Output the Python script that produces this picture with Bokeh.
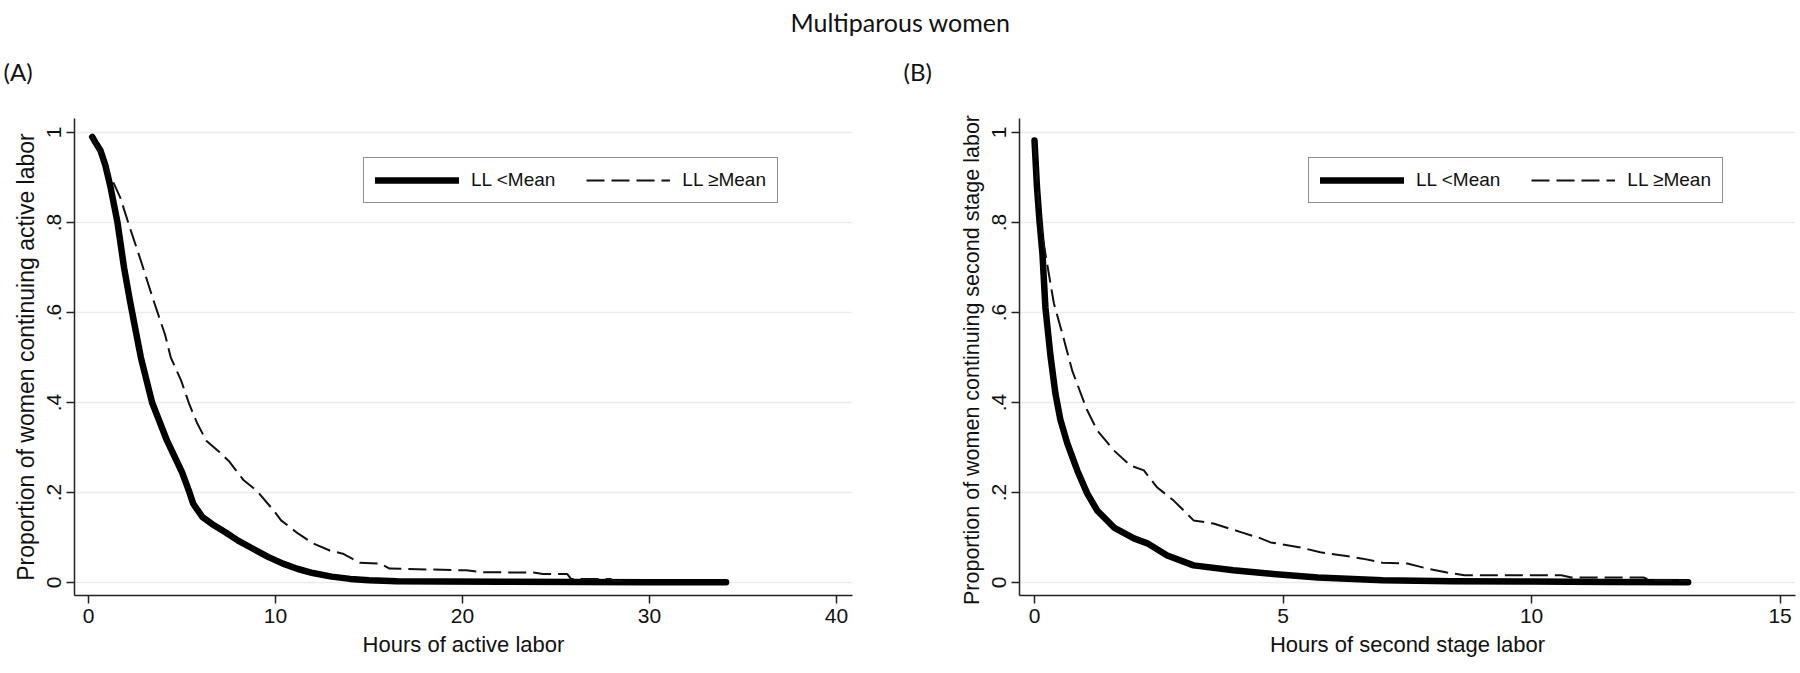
from bokeh.plotting import figure
from bokeh.models import Range1d, FixedTicker, Label, Legend, LegendItem
from bokeh.layouts import column, row
from bokeh.embed import file_html
from bokeh.resources import INLINE

# ---------------- data ----------------
TITLE = "Multiparous women"
series_names = ["LL <Mean", "LL \u2265Mean"]

# Panel A: hours of active labor
a_lo_h = [0.2, 0.37, 0.64, 0.9, 1.18, 1.55, 1.9, 2.2, 2.45, 2.8, 3.4, 4.2, 5.0, 5.4, 5.6, 6.1, 6.6, 7.3, 8.0,
          8.8, 9.6, 10.4, 11.2, 12.0, 13.0, 14.0, 15.0, 16.5, 19.0, 22.0, 26.0, 30.0, 34.1]
a_lo_s = [0.99, 0.978, 0.96, 0.927, 0.878, 0.80, 0.70, 0.63, 0.575, 0.50, 0.40, 0.315, 0.245, 0.20, 0.175, 0.145,
          0.13, 0.112, 0.093, 0.075, 0.057, 0.042, 0.03, 0.021, 0.013, 0.008, 0.005, 0.003, 0.002, 0.0015, 0.001,
          0.0008, 0.0005]
a_hi_h = [0.2, 0.64, 1.1, 1.7, 2.2, 2.8, 3.45, 4.1, 4.4, 4.95, 5.4, 5.8, 6.3, 7.0, 7.5, 8.3, 9.0, 9.9,
          10.3, 11.2, 12.0, 12.9, 13.6, 14.1, 14.5, 15.6, 16.1, 18.1, 20.2, 21.0, 23.8, 24.3, 25.6, 25.8, 27.9,
          28.1, 28.6]
a_hi_s = [0.99, 0.953, 0.91, 0.855, 0.79, 0.715, 0.63, 0.55, 0.50, 0.449, 0.395, 0.355, 0.315, 0.29, 0.27,
          0.227, 0.204, 0.16, 0.138, 0.109, 0.087, 0.071, 0.064, 0.053, 0.044, 0.042, 0.031, 0.029, 0.027,
          0.023, 0.022, 0.019, 0.019, 0.008, 0.008, 0.004, 0.003]

# Panel B: hours of second stage labor
b_lo_h = [0.0, 0.05, 0.1, 0.16, 0.22, 0.32, 0.42, 0.52, 0.66, 0.86, 1.06, 1.26, 1.6, 2.0, 2.27, 2.67, 3.2, 4.0,
          4.7, 5.7, 7.0, 8.4, 10.0, 11.5, 13.15]
b_lo_s = [0.982, 0.878, 0.804, 0.73, 0.61, 0.505, 0.42, 0.362, 0.309, 0.249, 0.198, 0.16, 0.122, 0.098, 0.087,
          0.06, 0.038, 0.027, 0.02, 0.011, 0.005, 0.003, 0.002, 0.001, 0.0005]
b_hi_h = [0.0, 0.05, 0.1, 0.14, 0.16, 0.22, 0.39, 0.58, 0.76, 1.05, 1.26, 1.6, 1.93, 2.2, 2.47, 2.8, 3.2, 3.6,
          4.15, 4.55, 4.75, 5.35, 5.75, 6.2, 6.6, 7.0, 7.5, 7.9, 8.3, 8.65, 10.6, 10.8, 12.25, 12.4, 13.15]
b_hi_s = [0.982, 0.90, 0.82, 0.79, 0.77, 0.73, 0.62, 0.545, 0.47, 0.385, 0.338, 0.293, 0.26, 0.249, 0.211,
          0.182, 0.138, 0.131, 0.112, 0.098, 0.089, 0.078, 0.067, 0.06, 0.053, 0.044, 0.042, 0.031, 0.022, 0.016,
          0.016, 0.011, 0.011, 0.005, 0.004]

y_ticks = [0, 0.2, 0.4, 0.6, 0.8, 1]
y_tick_labels = ["0", ".2", ".4", ".6", ".8", "1"]
a_x_ticks = [0, 10, 20, 30, 40]
b_x_ticks = [0, 5, 10, 15]

FONT = "Liberation Sans"
AXC = "#222222"


def make_panel(lo_h, lo_s, hi_h, hi_s, xr, xticks, xlabel, ylabel, ylabel_size, width, bl, br):
    p = figure(width=width, height=567, x_range=Range1d(*xr), y_range=Range1d(-0.0289, 1.031),
               toolbar_location=None, output_backend="svg",
               min_border_left=bl, min_border_right=br, min_border_top=20, min_border_bottom=70,
               outline_line_color=None, background_fill_color="white")
    p.xgrid.visible = False
    p.ygrid.grid_line_color = "#ececec"
    p.ygrid.grid_line_width = 1.5
    p.xaxis.ticker = FixedTicker(ticks=xticks)
    p.yaxis.ticker = FixedTicker(ticks=y_ticks)
    p.yaxis.major_label_overrides = {t: l for t, l in zip(y_ticks, y_tick_labels)}
    p.yaxis.major_label_orientation = "vertical"
    p.axis.minor_tick_line_color = None
    p.axis.major_tick_out = 8
    p.axis.major_tick_in = 0
    p.axis.axis_line_color = AXC
    p.axis.axis_line_width = 1.5
    p.axis.major_tick_line_color = AXC
    p.axis.major_tick_line_width = 1.5
    p.axis.major_label_text_font = FONT
    p.axis.major_label_text_font_size = "21px"
    p.axis.major_label_text_color = "#111111"
    p.axis.axis_label_text_font = FONT
    p.xaxis.axis_label_text_font_size = "22px"
    p.yaxis.axis_label_text_font_size = ylabel_size
    p.axis.axis_label_text_font_style = "normal"
    p.axis.axis_label_text_color = "#111111"
    p.axis.major_label_standoff = 5
    p.axis.axis_label_standoff = 6
    p.xaxis.axis_label = xlabel
    p.yaxis.axis_label = ylabel

    r1 = p.line(lo_h, lo_s, line_color="black", line_width=6.5, line_cap="round", line_join="round")
    r2 = p.line(hi_h, hi_s, line_color="#111111", line_width=2, line_dash="18 7")

    leg = Legend(items=[LegendItem(label=series_names[0], renderers=[r1]),
                        LegendItem(label=series_names[1], renderers=[r2])],
                 location=(289, 392), orientation="horizontal",
                 glyph_width=84, glyph_height=20, label_height=20, label_standoff=12, spacing=31,
                 padding=11, margin=0,
                 border_line_color=AXC, border_line_width=1.5, background_fill_alpha=1,
                 label_text_font=FONT, label_text_font_size="19px", label_text_color="#111111")
    p.add_layout(leg)
    return p


p1 = make_panel(a_lo_h, a_lo_s, a_hi_h, a_hi_s, (-0.749, 40.86), a_x_ticks,
                "Hours of active labor", "Proportion of women continuing active labor", "23px", 900, 74, 48)
p2 = make_panel(b_lo_h, b_lo_s, b_hi_h, b_hi_s, (-0.302, 15.31), b_x_ticks,
                "Hours of second stage labor", "Proportion of women continuing second stage  labor", "21.5px",
                898, 119, 3)

hdr = figure(width=1798, height=98, x_range=Range1d(0, 1798), y_range=Range1d(0, 98),
             toolbar_location=None, output_backend="svg", min_border=0,
             x_axis_type=None, y_axis_type=None, outline_line_color=None)
hdr.grid.visible = False
hdr.add_layout(Label(x=900, y=77, text=TITLE, text_align="center", text_baseline="middle",
                     text_font="Lato", text_font_size="25px", text_color="#111111"))
hdr.add_layout(Label(x=3, y=27, text="(A)", text_align="left", text_baseline="middle",
                     text_font="Lato", text_font_size="24px", text_color="#111111"))
hdr.add_layout(Label(x=903, y=27, text="(B)", text_align="left", text_baseline="middle",
                     text_font="Lato", text_font_size="24px", text_color="#111111"))

layout = column(hdr, row(p1, p2))
open("out.html", "w").write(file_html(layout, INLINE))
